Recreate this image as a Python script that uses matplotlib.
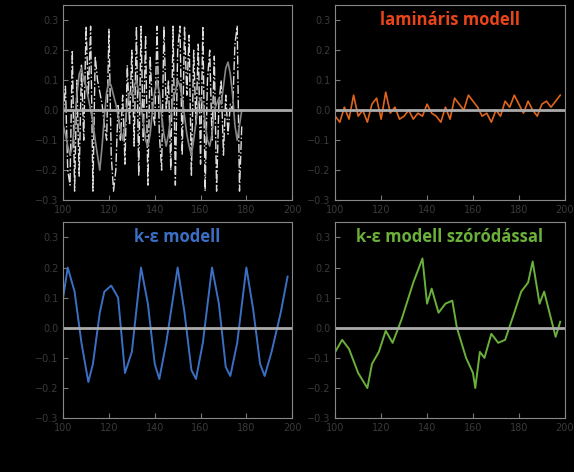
import matplotlib.pyplot as plt
import numpy as np

# time axis (s) and signals
x_white = np.arange(100, 178.5, 1.0)
y_white = [-0.02, 0.08, -0.2, -0.25, 0.2, -0.27, 0.1, -0.22, 0.15, -0.1, 0.28, 0.05, 0.28, -0.27, 0.18, 0.1, 0.06, 0.02, -0.05,
           -0.1, 0.27, -0.15, -0.27, -0.2, 0.02, -0.1, 0.05, -0.18, 0.15, -0.05, 0.2, -0.12, 0.28, -0.22, 0.28, -0.1, 0.25,
           -0.25, 0.18, 0.0, -0.05, 0.28, -0.08, -0.2, 0.28, 0.0, 0.1, -0.2, 0.28, -0.25, 0.2, 0.28, -0.15, 0.28, 0.05, 0.25,
           -0.22, 0.2, -0.05, 0.22, -0.18, 0.28, -0.27, 0.1, 0.2, -0.1, 0.18, -0.27, 0.02, 0.1, -0.15, 0.05, -0.08, 0.02, 0.0,
           0.22, 0.28, -0.27, -0.05]
y_white_smooth = [-0.05, -0.08, -0.12, -0.15, -0.12, -0.05, 0.05, 0.12, 0.14, 0.1, 0.08, 0.04, 0.0, -0.04, -0.1, -0.15,
                  -0.2, -0.12, -0.02, 0.06, 0.1, 0.08, 0.05, 0.02, -0.02, -0.06, -0.1, -0.05, 0.02, 0.06, 0.05, 0.08, 0.1,
                  0.06, 0.02, -0.04, -0.1, -0.12, -0.08, 0.0, 0.06, 0.1, 0.06, -0.02, -0.08, -0.12, -0.08, -0.02, 0.04, 0.06,
                  0.1, 0.08, 0.04, -0.02, -0.08, -0.12, -0.15, -0.1, -0.04, 0.02, 0.04, 0.02, -0.04, -0.1, -0.12, -0.08, 0.0,
                  0.02, 0.04, 0.02, 0.08, 0.14, 0.16, 0.12, 0.05, -0.05, -0.1, -0.05, 0.0]

x_orange = np.arange(100, 199, 2.0)
y_orange = [-0.02, -0.04, 0.01, -0.03, 0.05, -0.02, 0.0, -0.04, 0.02, 0.04, -0.03, 0.06, -0.01, 0.01, -0.03, -0.02,
            0.0, -0.03, -0.01, -0.02, 0.02, -0.01, -0.02, -0.04, 0.01, -0.03, 0.04, 0.02, 0.0, 0.05, 0.03, 0.01,
            -0.02, -0.01, -0.04, 0.0, -0.02, 0.03, 0.01, 0.05, 0.02, -0.01, 0.03, 0.0, -0.02, 0.02, 0.03, 0.01, 0.03, 0.05]

x_blue = [100, 102, 105, 108, 111, 113, 116, 118, 121, 124, 127, 130, 134, 137, 140, 142, 145, 150, 153, 156, 158,
          161, 165, 168, 171, 173, 176, 180, 183, 186, 188, 191, 195, 198]
y_blue = [0.1, 0.2, 0.12, -0.05, -0.18, -0.12, 0.05, 0.12, 0.14, 0.1, -0.15, -0.08, 0.2, 0.08, -0.12, -0.17, -0.05,
          0.2, 0.05, -0.14, -0.17, -0.05, 0.2, 0.08, -0.13, -0.16, -0.05, 0.2, 0.06, -0.12, -0.16, -0.08, 0.05, 0.17]

x_green = [100, 103, 106, 110, 114, 116, 119, 122, 125, 129, 134, 138, 140, 142, 145, 148, 151, 153, 157, 160, 161,
           163, 165, 168, 171, 174, 178, 181, 184, 186, 189, 191, 194, 196, 198]
y_green = [-0.08, -0.04, -0.07, -0.15, -0.2, -0.12, -0.08, -0.01, -0.05, 0.03, 0.15, 0.23, 0.08, 0.13, 0.05, 0.08,
           0.09, 0.0, -0.1, -0.15, -0.2, -0.08, -0.1, -0.02, -0.05, -0.04, 0.05, 0.12, 0.15, 0.22, 0.08, 0.12, 0.03,
           -0.03, 0.02]

xticks = [100, 120, 140, 160, 180, 200]
yticks = [-0.3, -0.2, -0.1, 0.0, 0.1, 0.2, 0.3]

fig = plt.figure(figsize=(5.74, 4.72), dpi=100, facecolor='black')
boxes = [(0.11, 0.576, 0.399, 0.413), (0.584, 0.576, 0.40, 0.413),
         (0.11, 0.114, 0.399, 0.415), (0.584, 0.114, 0.40, 0.415)]
axes = [fig.add_axes(b) for b in boxes]

axes[0].plot(x_white, y_white, color='#dddddd', lw=1.0, ls='-.')
axes[0].plot(x_white, y_white_smooth, color='#888888', lw=1.2)
axes[1].plot(x_orange, y_orange, color='#e0641e', lw=1.2)
axes[2].plot(x_blue, y_blue, color='#3b6fc4', lw=1.4)
axes[3].plot(x_green, y_green, color='#6ab03a', lw=1.4)

titles = ['', 'lamináris modell', 'k-ε modell', 'k-ε modell szóródással']
colors = ['w', '#e8451a', '#3b6fc4', '#6ab03a']
for ax, t, c in zip(axes, titles, colors):
    ax.set_facecolor('black')
    ax.axhline(0, color='#aaaaaa', lw=2)
    ax.set_xlim(100, 200)
    ax.set_ylim(-0.3, 0.35)
    ax.set_xticks(xticks)
    ax.set_yticks(yticks)
    ax.tick_params(colors='#777777', labelcolor='#3a3a3a', labelsize=7, direction='in')
    for s in ax.spines.values():
        s.set_color('#888888')
    if t:
        ax.text(0.5, 0.97, t, transform=ax.transAxes, ha='center', va='top',
                color=c, fontsize=12, fontweight='bold', family='Open Sans')

fig.savefig('out.png', dpi=100, facecolor='black')
